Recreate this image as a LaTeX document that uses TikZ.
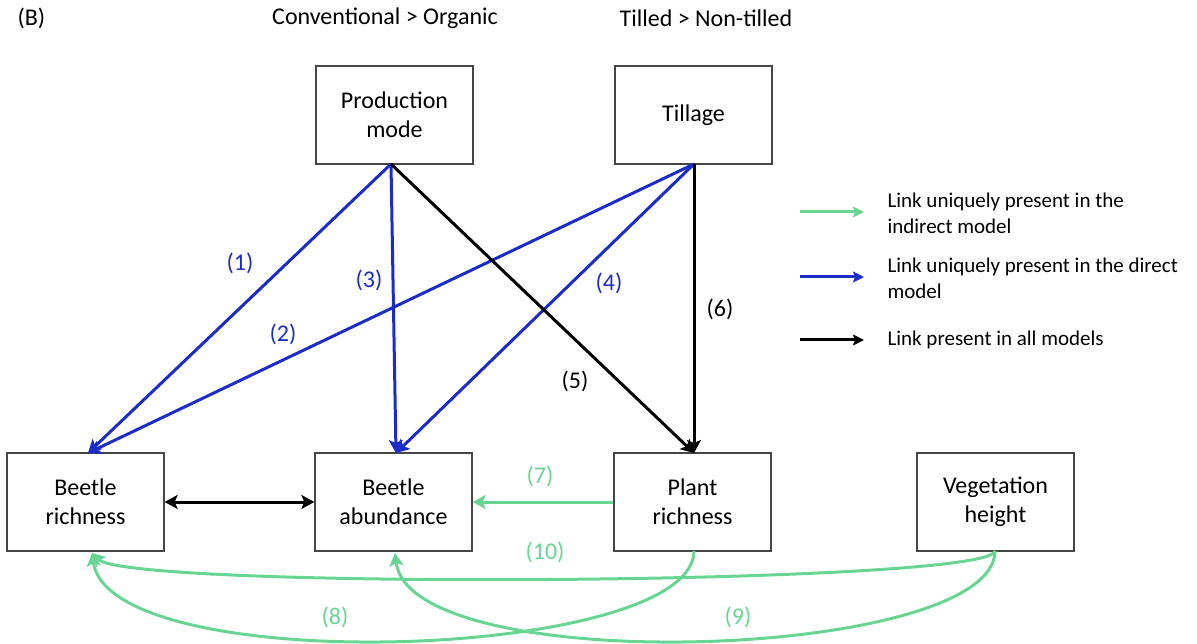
\documentclass[tikz,border=0pt]{standalone}
\usepackage{fontspec}
\setmainfont{Carlito}
\usetikzlibrary{arrows.meta}
\definecolor{lblue}{RGB}{28,44,200}
\definecolor{lgreen}{RGB}{104,214,146}
\definecolor{bordergray}{RGB}{70,70,70}
\tikzset{
  box/.style={draw=bordergray, line width=1.3pt, minimum width=157pt, minimum height=98pt, align=center, font=\fontsize{24}{29}\selectfont, inner sep=2pt},
  tip/.style={Stealth[length=13pt,width=14pt,inset=3pt]},
  lnk/.style={line width=3pt, -{Stealth[length=13pt,width=14pt,inset=3pt]}},
  leglnk/.style={line width=3pt, -{Stealth[length=11pt,width=11pt,inset=2pt]}},
  lbl/.style={font=\fontsize{24}{29}\selectfont},
  leg/.style={font=\fontsize{21}{26}\selectfont, align=left, anchor=west},
}
\begin{document}
\begin{tikzpicture}[x=1pt,y=-1pt]
\useasboundingbox (0,0) rectangle (1197,644);
% titles
\node[lbl, anchor=west] (B) at (14,18) {(B)};
\node[lbl] (conv) at (385,18) {Conventional > Organic};
\node[lbl] (till) at (706,18) {Tilled > Non-tilled};
% boxes
\node[box] (pm) at (394.5,115) {Production\\mode};
\node[box] (tl) at (693.5,115) {Tillage};
\node[box] (br) at (85.5,502) {Beetle\\richness};
\node[box] (ba) at (393.5,502) {Beetle\\abundance};
\node[box] (pr) at (692.5,502) {Plant\\richness};
\node[box] (vh) at (995.5,502) {Vegetation\\height};
% anchor points
\coordinate (pmB) at (391,164);
\coordinate (tlB) at (694,164);
\coordinate (brT) at (88,453);
\coordinate (baT) at (396,453);
\coordinate (prT) at (694,453);
\coordinate (brB) at (92,553);
\coordinate (baB) at (395,553);
\coordinate (prB) at (694,551);
\coordinate (vhB) at (995,551);
% blue links
\draw[lnk, lblue] (pmB) -- (brT);
\draw[lnk, lblue] (tlB) -- (brT);
\draw[lnk, lblue] (pmB) -- (baT);
\draw[lnk, lblue] (tlB) -- (baT);
% black links
\draw[lnk, black] (pmB) -- (prT);
\draw[lnk, black] (tlB) -- (prT);
\draw[line width=3pt, {Stealth[length=13pt,width=14pt,inset=3pt]}-{Stealth[length=13pt,width=14pt,inset=3pt]}] (br.east) -- (ba.west);
% green links
\draw[lnk, lgreen] (pr.west) -- (ba.east);
\draw[lnk, lgreen] (prB) .. controls (694,660) and (110,680) .. (brB);
\draw[lnk, lgreen] (vhB) .. controls (995,660) and (410,680) .. (baB);
\draw[lnk, lgreen] (vhB) .. controls (990,585) and (130,590) .. (brB);
% labels
\node[lbl, text=lblue] (l1) at (240,263) {(1)};
\node[lbl, text=lblue] (l2) at (283,334) {(2)};
\node[lbl, text=lblue] (l3) at (369,280) {(3)};
\node[lbl, text=lblue] (l4) at (609,283) {(4)};
\node[lbl] (l5) at (575,381) {(5)};
\node[lbl] (l6) at (720,309) {(6)};
\node[lbl, text=lgreen] (l7) at (540,476) {(7)};
\node[lbl, text=lgreen] (l10) at (545,552) {(10)};
\node[lbl, text=lgreen] (l8) at (335,617) {(8)};
\node[lbl, text=lgreen] (l9) at (738,617) {(9)};
% legend
\coordinate (g1) at (800,212); \coordinate (g2) at (864,212);
\coordinate (b1) at (800,277); \coordinate (b2) at (864,277);
\coordinate (k1) at (800,340); \coordinate (k2) at (864,340);
\draw[leglnk, lgreen] (g1) -- (g2);
\draw[leglnk, lblue] (b1) -- (b2);
\draw[leglnk, black] (k1) -- (k2);
\node[leg] (t1) at (884,213) {Link uniquely present in the\\indirect model};
\node[leg] (t2) at (884,278) {Link uniquely present in the direct\\model};
\node[leg] (t3) at (884,340) {Link present in all models};
\end{tikzpicture}
\end{document}
